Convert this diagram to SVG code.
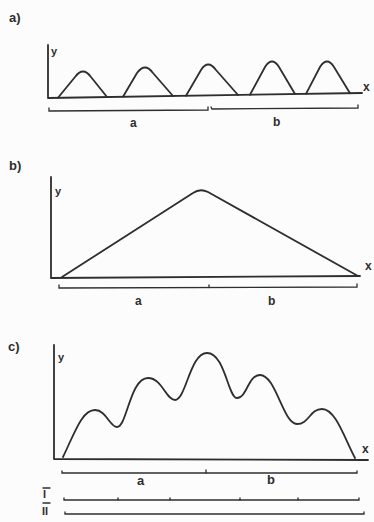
<svg xmlns="http://www.w3.org/2000/svg" width="374" height="522" viewBox="0 0 374 522">
<style>
.ln{fill:none;stroke:#2e2e2e;stroke-width:1.8;stroke-linecap:round;stroke-linejoin:round}
.th{fill:none;stroke:#2e2e2e;stroke-width:1.3;stroke-linecap:round}
.t{font-family:"Liberation Sans",Arial,sans-serif;fill:#2e2e2e;font-weight:bold}
.s{font-size:11px}
.m{font-size:12px}
.l{font-size:13px}
</style>
<rect width="374" height="522" fill="#fcfcfc"/>

<g id="panel-a">
  <text class="t l" x="9" y="22">a)</text>
  <g id="axes-a">
    <path class="ln" d="M48,45 L48,98 L362,93"/>
    <text class="t s" x="51" y="55">y</text>
    <text class="t m" x="363" y="91">x</text>
  </g>
  <g id="curve-a">
    <path class="ln" d="M58,97.8 L75,77 Q83,66 91,77 L107,97"/>
    <path class="ln" d="M123,96.8 L137,73 Q145,62 153,73 L173,96"/>
    <path class="ln" d="M186,95.8 L201,70 Q208,59 216,70 L238,95"/>
    <path class="ln" d="M250,94.8 L265,67 Q272,56 279,67 L295,94"/>
    <path class="ln" d="M306,93.9 L320,67 Q327,56 334,67 L350,93.2"/>
  </g>
  <g id="scale-a">
    <path class="th" d="M49,108 L49,111 L208,110 L208,107"/>
    <path class="th" d="M211,107 L212,109 L358,108 L358,105"/>
    <text class="t m" x="130" y="127">a</text>
    <text class="t m" x="273" y="126">b</text>
  </g>
</g>

<g id="panel-b">
  <text class="t l" x="9" y="170">b)</text>
  <g id="axes-b">
    <path class="ln" d="M51,177 L51,278 L360,276"/>
    <text class="t s" x="55" y="195">y</text>
    <text class="t m" x="365" y="270">x</text>
  </g>
  <g id="curve-b">
    <path class="ln" d="M62,277 L193,193 Q200,188 208,192 L358,276"/>
  </g>
  <g id="scale-b">
    <path class="th" d="M59,285 L59,288 L357,287 L357,284"/>
    <path class="th" d="M209,285 L209,287.5"/>
    <text class="t m" x="135" y="305">a</text>
    <text class="t m" x="268" y="305">b</text>
  </g>
</g>

<g id="panel-c">
  <text class="t l" x="8" y="351">c)</text>
  <g id="axes-c">
    <path class="ln" d="M54,345 L54,459 L368,460"/>
    <text class="t s" x="58" y="361">y</text>
    <text class="t m" x="362" y="453">x</text>
  </g>
  <g id="curve-c">
    <path class="ln" d="M63,457 C75,432 82,410 95,410 C106,410 110,427 117,427 C127,427 130,378 148,378 C162,378 166,400 175,400 C186,400 190,353 207,353 C225,353 228,398 237,398 C247,398 248,375 260,375 C276,375 283,424 297,424 C309,424 310,409 322,409 C336,409 345,440 355,458"/>
  </g>
  <g id="scale-c">
    <path class="th" d="M62,471 L62,473 L357,473 L357,471"/>
    <path class="th" d="M206,470 L206,473"/>
    <text class="t l" x="137" y="485">a</text>
    <text class="t l" x="267" y="484">b</text>
  </g>
  <g id="line-I">
    <path class="th" d="M43,488 L50,488"/>
    <text class="t s" x="43" y="498">I</text>
    <path class="th" d="M64,498 L64,500 L359,500 L359,498"/>
    <path class="th" d="M118,498 L118,500 M170,498 L170,500 M240,498 L240,500 M298,498 L298,500"/>
  </g>
  <g id="line-II">
    <path class="th" d="M43,503 L50,503"/>
    <text class="t s" x="42" y="515">II</text>
    <path class="th" d="M65,512 L65,514 L364,514 L364,512"/>
  </g>
</g>
</svg>
